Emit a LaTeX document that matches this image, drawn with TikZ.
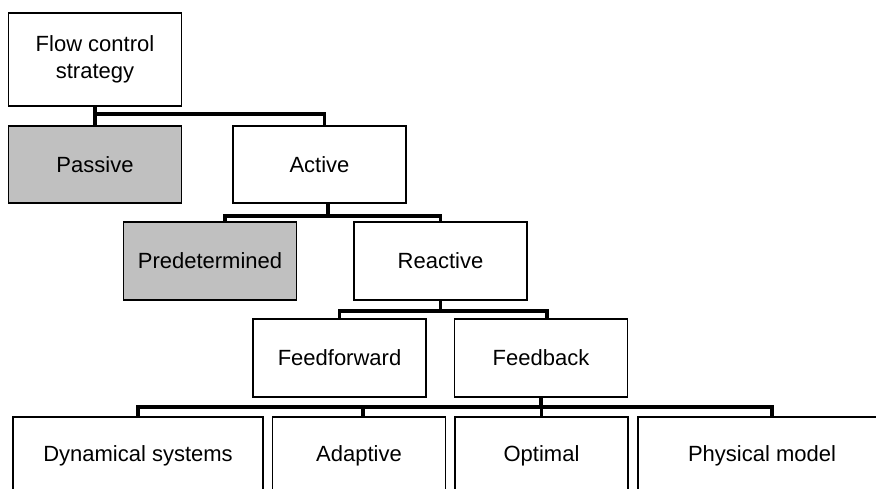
\documentclass[tikz,border=0pt]{standalone}
\usepackage{fontspec}
\setmainfont{Liberation Sans}
\usepackage{tikz}
\usetikzlibrary{calc}
\definecolor{boxGray}{RGB}{192,192,192}

\begin{document}
\begin{tikzpicture}[x=1pt, y=-1pt,
  font=\fontsize{22}{27}\selectfont,
  box/.style={draw, line width=1.6pt, fill=white, align=center, inner sep=0pt, minimum width=173pt, minimum height=78pt},
  grey box/.style={box, fill=boxGray},
  link/.style={line width=3.8pt}]
\clip (0,0) rectangle (876,489);
\fill[white] (0,0) rectangle (876,489);
\node[box, minimum height=93pt] (root) at (95,59.5) {Flow control\\strategy};
\node[grey box, minimum height=77pt] (passive) at (95,164.5) {Passive};
\node[box, minimum height=77pt] (active) at (319.5,164.5) {Active};
\node[grey box] (pred) at (210,261) {Predetermined};
\node[box] (react) at (440.5,261) {Reactive};
\node[box] (ffwd) at (339.5,358) {Feedforward};
\node[box] (fback) at (541,358) {Feedback};
\node[box, minimum width=250pt] (dyn) at (138,456) {Dynamical systems};
\node[box] (adapt) at (359,456) {Adaptive};
\node[box] (optim) at (541.5,456) {Optimal};
\node[box, minimum width=248pt] (phys) at (762,456) {Physical model};
% brackets between levels
\draw[link] (passive.north) -- ++(0,-11) coordinate (bar1) -| ($(active.north)+(5,0)$);
\draw[link] (root.south) -- (root.south |- bar1);
\draw[link] ($(pred.north)+(15,0)$) -- ++(0,-5) coordinate (bar2) -| (react.north);
\draw[link] ($(active.south)+(8.5,0)$) -- ($(active.south |- bar2)+(8.5,0)$);
\draw[link] (ffwd.north) -- ++(0,-7) coordinate (bar3) -| ($(fback.north)+(6,0)$);
\draw[link] (react.south) -- (react.south |- bar3);
\draw[link] (dyn.north) -- ++(0,-9) coordinate (bar4) -| ($(phys.north)+(10,0)$);
\draw[link] ($(adapt.north)+(4,0)$) -- ($(adapt.north |- bar4)+(4,0)$);
\draw[link] (optim.north) -- (optim.north |- bar4);
\draw[link] (fback.south) -- (fback.south |- bar4);
\end{tikzpicture}
\end{document}
